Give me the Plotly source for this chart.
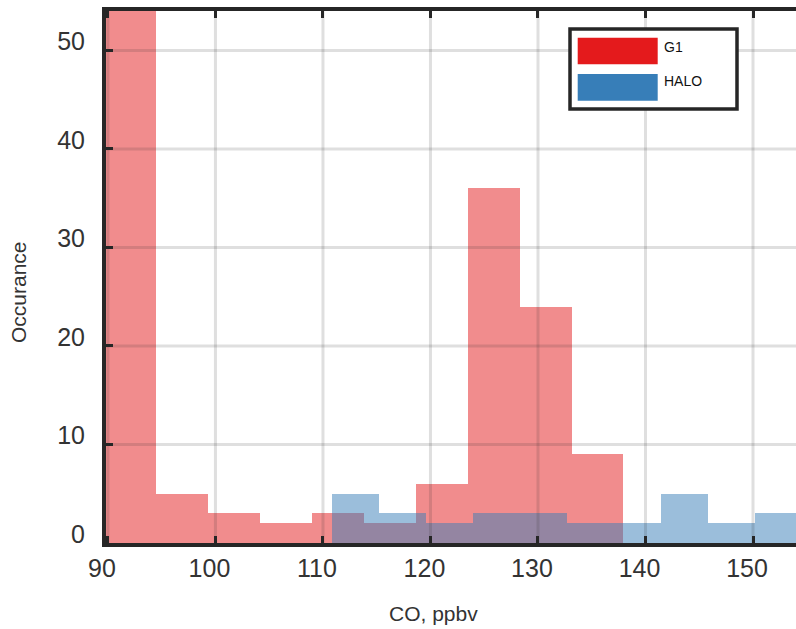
import numpy as np
import plotly.graph_objects as go

# Tick positions
co_ticks = [90, 100, 110, 120, 130, 140, 150]
count_ticks = [0, 10, 20, 30, 40, 50]

# G1 histogram (CO, ppbv): first bin edge, bin width, counts per bin
g1_bin_start = 89.64
g1_bin_width = 4.831
g1_counts = [54, 5, 3, 2, 3, 2, 6, 36, 24, 9]

# HALO histogram (CO, ppbv)
halo_bin_start = 110.84
halo_bin_width = 4.374
halo_counts = [5, 3, 2, 3, 3, 2, 2, 5, 2, 3]

series_names = ["G1", "HALO"]
series_colors = ["rgb(228,26,28)", "rgb(55,126,184)"]
series_fills = ["rgba(228,26,28,0.5)", "rgba(55,126,184,0.5)"]

FONT = "Liberation Sans, Arial, Helvetica, sans-serif"
INK = "#262626"
TXT = "#333333"

W, H = 796, 629
M_L, M_R, M_T, M_B = 106, 0, 11, 86
PW, PH = W - M_L - M_R, H - M_T - M_B


def px_x(px):
    return (px - M_L) / PW


def px_y(py):
    return (H - M_B - py) / PH


def left_edges(start, width, counts):
    return start + width * np.arange(len(counts))


fig = go.Figure()
for name, start, width, counts, fill in [
    (series_names[0], g1_bin_start, g1_bin_width, g1_counts, series_fills[0]),
    (series_names[1], halo_bin_start, halo_bin_width, halo_counts, series_fills[1]),
]:
    fig.add_trace(go.Bar(
        x=left_edges(start, width, counts),
        y=counts,
        width=width,
        offset=0,
        name=name,
        marker=dict(color=fill, line=dict(width=0)),
        showlegend=False,
    ))

shapes = []
# Grid lines drawn over the bars
for v in co_ticks:
    shapes.append(dict(type="line", xref="x", yref="paper", x0=v, x1=v, y0=0, y1=1,
                       line=dict(color="rgba(38,38,38,0.15)", width=3), layer="above"))
for v in count_ticks[1:]:
    shapes.append(dict(type="line", xref="paper", yref="y", x0=0, x1=1, y0=v, y1=v,
                       line=dict(color="rgba(38,38,38,0.15)", width=3), layer="above"))

# Legend box with large colour swatches
shapes.append(dict(type="rect", xref="paper", yref="paper",
                   x0=px_x(570), x1=px_x(737), y0=px_y(109), y1=px_y(29),
                   line=dict(color=INK, width=3.5), fillcolor="white", layer="above"))
swatch_rows = [(37.7, 64.3), (74.0, 100.7)]
annotations = []
for (top, bot), color, name in zip(swatch_rows, series_colors, series_names):
    shapes.append(dict(type="rect", xref="paper", yref="paper",
                       x0=px_x(577.7), x1=px_x(657.7), y0=px_y(bot), y1=px_y(top),
                       line=dict(width=0), fillcolor=color, layer="above"))
    annotations.append(dict(text=name, xref="paper", yref="paper",
                            x=px_x(662), y=px_y(top + 9.5 if name == "G1" else top + 7),
                            xanchor="left", yanchor="middle", showarrow=False,
                            font=dict(family=FONT, size=14, color="#111111")))

# Axis titles
annotations.append(dict(text="CO, ppbv", xref="paper", yref="paper",
                        x=px_x(433), y=px_y(613), xanchor="center", yanchor="middle",
                        showarrow=False, font=dict(family=FONT, size=21, color=TXT)))
annotations.append(dict(text="Occurance", xref="paper", yref="paper",
                        x=px_x(18), y=px_y(292), xanchor="center", yanchor="middle",
                        textangle=-90, showarrow=False,
                        font=dict(family=FONT, size=21, color=TXT)))

axis_common = dict(
    showgrid=False, zeroline=False,
    showline=True, linewidth=4, linecolor=INK,
    ticks="inside", ticklen=7, tickwidth=3, tickcolor=INK,
    tickfont=dict(family=FONT, size=25, color=TXT),
)

fig.update_layout(
    width=W, height=H,
    margin=dict(l=M_L, r=M_R, t=M_T, b=M_B),
    paper_bgcolor="white", plot_bgcolor="white",
    barmode="overlay", bargap=0,
    showlegend=False,
    shapes=shapes,
    annotations=annotations,
    xaxis=dict(range=[89.82, 154.0], tickvals=co_ticks, ticklabelshift=-6,
               ticklabelstandoff=0, mirror="ticks", **axis_common),
    yaxis=dict(range=[0, 54], tickvals=count_ticks, ticklabelshift=-9,
               ticklabelstandoff=12, mirror=False, **axis_common),
)

fig.write_html("out.html")
